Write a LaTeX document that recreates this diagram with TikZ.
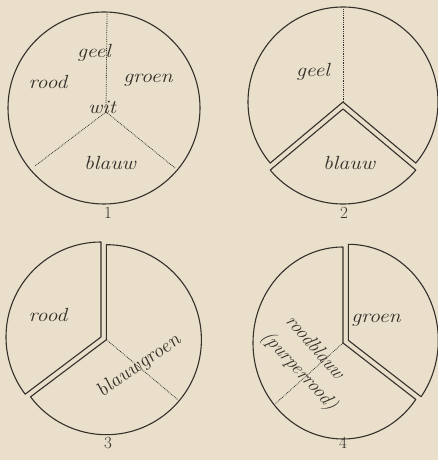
\documentclass[tikz,border=0pt]{standalone}
\definecolor{paper}{RGB}{233,223,203}
\definecolor{ink}{RGB}{52,48,42}
\begin{document}
\begin{tikzpicture}[x=1pt,y=1pt,
  outline/.style={draw=ink, line width=1.1pt, line join=round},
  cut/.style={draw=ink, line width=0.8pt, densely dotted},
  lab/.style={font=\fontsize{19}{20}\selectfont\itshape, text=ink, inner sep=0pt, xscale=1.15},
  slab/.style={font=\fontsize{18}{19}\selectfont\itshape, text=ink, inner sep=0pt, xscale=1.12},
  num/.style={font=\fontsize{17}{17}\selectfont, text=ink, inner sep=0pt}]
\fill[paper] (0,0) rectangle (438,460);
\useasboundingbox (0,0) rectangle (438,460);

% ---------- disc 1
\coordinate (c1) at (104,352);
\coordinate (j1) at (106,348);
\coordinate (t1) at (107,447);
\coordinate (l1) at (35,294);
\coordinate (r1) at (175,292);
\draw[outline] (c1) circle[radius=96];
\draw[cut] (j1) -- (t1);
\draw[cut] (j1) -- (l1);
\draw[cut] (j1) -- (r1);
\node[lab] (geel1) at (94,407) {geel};
\node[lab] (rood1) at (48,378) {rood};
\node[lab] (groen1) at (148,380) {groen};
\node[lab] (wit1) at (102,353) {wit};
\node[lab] (blauw1) at (110,297) {blauw};
\node[num] (n1) at (108,247) {1};

% ---------- disc 2
\coordinate (c2u) at (343,358);
\coordinate (c2l) at (343,351);
\draw[outline] (c2u) -- ++(-40:95) arc[start angle=-40, end angle=220, radius=95] -- cycle;
\draw[outline] (c2l) -- ++(-140:95) arc[start angle=-140, end angle=-40, radius=95] -- cycle;
\draw[cut] (c2u) -- ++(90:93);
\node[lab] (geel2) at (313,388) {geel};
\node[lab] (blauw2) at (349,297) {blauw};
\node[num] (n2) at (344,247) {2};

% ---------- disc 3
\coordinate (c3l) at (101,123);
\coordinate (c3r) at (106.4,120.3);
\draw[outline] (c3l) -- ++(90:95) arc[start angle=90, end angle=217, radius=95] -- cycle;
\draw[outline] (c3r) -- ++(90:95) arc[start angle=90, end angle=-143, radius=95] -- cycle;
\draw[cut] (c3r) -- ++(-40:93);
\node[lab] (rood3) at (48,145) {rood};
\node[lab, rotate=38.5] (bg3) at (139,94) {blauwgroen};
\node[num] (n3) at (108,17) {3};

% ---------- disc 4
\coordinate (c4l) at (343,117);
\coordinate (c4r) at (348.3,119.7);
\draw[outline] (c4l) -- ++(90:90 and 96) arc[start angle=90, end angle=324, x radius=90, y radius=96] -- cycle;
\draw[outline] (c4r) -- ++(90:90 and 96) arc[start angle=90, end angle=-36, x radius=90, y radius=96] -- cycle;
\draw[cut] (c4l) -- ++(220:88 and 94);
\node[lab] (groen4) at (376,140) {groen};
\node[slab, rotate=-52] (rb4) at (316,113) {roodblauw};
\node[slab, rotate=-50] (pr4) at (299,89) {(purperrood)};
\node[num] (n4) at (343,17) {4};
\end{tikzpicture}
\end{document}
